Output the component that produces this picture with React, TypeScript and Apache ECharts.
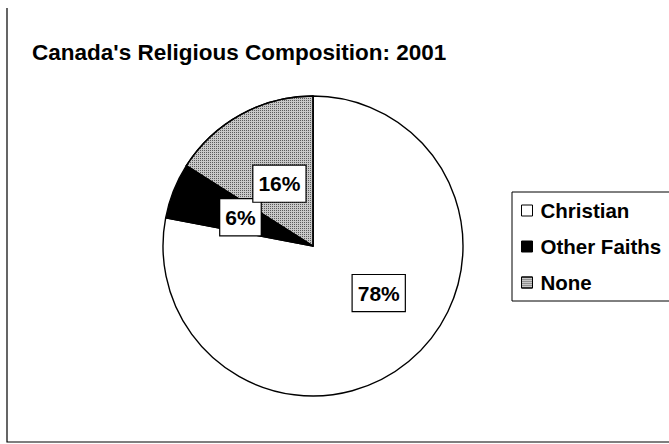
import React, { useEffect, useRef } from "react";
import * as echarts from "echarts";

const categories = ["Christian", "Other Faiths", "None"];
const shares = [78, 6, 16];
const sliceColors = ["#ffffff", "#000000", "#c8c8c8"];
const titleText = "Canada's Religious Composition: 2001";

const FONT = "'Liberation Sans', Arial, Helvetica, sans-serif";

export default function App() {
  const ref = useRef<HTMLDivElement>(null);
  useEffect(() => {
    document.body.style.margin = "0";
    const chart = echarts.init(ref.current!, null, { renderer: "svg" });
    const data = categories.map((name, i) => ({
      name,
      value: shares[i],
      itemStyle:
        i === 2
          ? {
              color: sliceColors[i],
              decal: {
                symbol: "rect",
                symbolSize: 1,
                dashArrayX: [1, 1],
                dashArrayY: [1, 1],
                color: "#5a5a5a",
                backgroundColor: "#d4d4d4",
              },
            }
          : { color: sliceColors[i] },
    }));
    chart.setOption({
      animation: false,
      backgroundColor: "#ffffff",
      title: {
        text: titleText,
        left: 27,
        top: 36,
        textStyle: {
          fontFamily: FONT,
          fontSize: 22.5,
          fontWeight: "bold",
          color: "#000",
        },
      },
      legend: {
        orient: "vertical",
        left: 512,
        top: 192,
        padding: [8, 20, 8, 9],
        itemGap: 15,
        itemWidth: 11,
        itemHeight: 11,
        itemStyle: { borderColor: "#000", borderWidth: 1 },
        icon: "rect",
        borderColor: "#000",
        borderWidth: 1,
        backgroundColor: "#fff",
        data: categories,
        textStyle: {
          fontFamily: FONT,
          fontSize: 20.5,
          fontWeight: "bold",
          color: "#000",
          padding: [0, 0, 0, 3],
        },
      },
      graphic: [
        {
          type: "polyline",
          shape: { points: [[7, 8], [7, 442], [669, 442]] },
          style: { stroke: "#000", lineWidth: 1.2, fill: "none" },
          silent: true,
        },
      ],
      series: [
        {
          type: "pie",
          center: [313, 246],
          radius: 150,
          startAngle: 90,
          clockwise: true,
          data,
          itemStyle: { borderColor: "#000", borderWidth: 1.4 },
          emphasis: { disabled: true },
          labelLine: { show: false },
          label: {
            show: true,
            position: "inside",
            formatter: "{c}%",
            fontFamily: FONT,
            fontSize: 21,
            fontWeight: "bold",
            color: "#000",
            backgroundColor: "#fff",
            borderColor: "#000",
            borderWidth: 1.2,
            padding: [8, 5, 7, 5],
          },
          labelLayout: (params: any) =>
            params.dataIndex === 0
              ? { dx: 16, dy: -13 }
              : params.dataIndex === 2
              ? { dx: 4, dy: 6 }
              : {},
        },
      ],
    });
    return () => chart.dispose();
  }, []);
  return <div ref={ref} style={{ width: 669, height: 444 }} />;
}
